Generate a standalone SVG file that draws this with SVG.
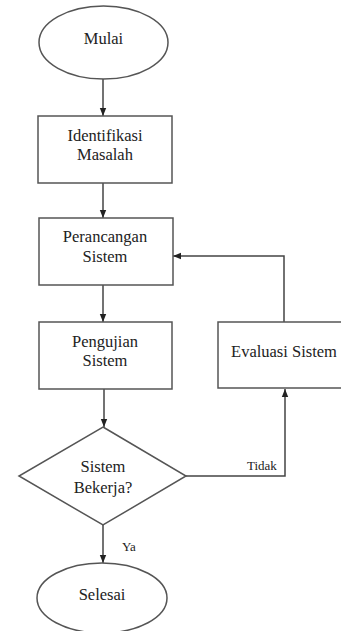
<svg xmlns="http://www.w3.org/2000/svg" width="341" height="631" viewBox="0 0 341 631">
<defs>
<marker id="arr" markerWidth="8" markerHeight="8" refX="8" refY="4" orient="auto" markerUnits="userSpaceOnUse">
<path d="M0,0.8 L8,4 L0,7.2 Z" fill="#222"/>
</marker>
<style>
.shape{fill:#fff;stroke:#555;stroke-width:1.5}
.t{font-family:"Liberation Serif","Times New Roman",serif;font-size:16.5px;fill:#222;text-anchor:middle}
.s{font-family:"Liberation Serif","Times New Roman",serif;font-size:13px;fill:#222}
.c{fill:none;stroke:#444;stroke-width:1.5}
</style>
</defs>
<rect width="341" height="631" fill="#fff"/>
<g id="connectors">
<line class="c" x1="103" y1="79" x2="103" y2="116" marker-end="url(#arr)"/>
<line class="c" x1="103" y1="183" x2="103" y2="218" marker-end="url(#arr)"/>
<line class="c" x1="103" y1="285" x2="103" y2="322" marker-end="url(#arr)"/>
<line class="c" x1="104" y1="389" x2="104" y2="427" marker-end="url(#arr)"/>
<line class="c" x1="103" y1="525" x2="103" y2="563" marker-end="url(#arr)"/>
<polyline class="c" points="284,322 284,256 173,256" marker-end="url(#arr)"/>
<polyline class="c" points="186,476 285,476 285,389" marker-end="url(#arr)"/>
<text class="s" x="247" y="470">Tidak</text>
<text class="s" x="122" y="551">Ya</text>
</g>
<g id="mulai">
<ellipse class="shape" cx="103.5" cy="42.5" rx="64.5" ry="36.5"/>
<text class="t" x="103.5" y="44">Mulai</text>
</g>
<g id="identifikasi">
<rect class="shape" x="38" y="116" width="134" height="67"/>
<text class="t" x="105" y="141">Identifikasi</text>
<text class="t" x="105" y="160">Masalah</text>
</g>
<g id="perancangan">
<rect class="shape" x="39" y="218" width="134" height="67"/>
<text class="t" x="105" y="242">Perancangan</text>
<text class="t" x="105" y="262">Sistem</text>
</g>
<g id="pengujian">
<rect class="shape" x="39" y="322" width="133" height="67"/>
<text class="t" x="105" y="347">Pengujian</text>
<text class="t" x="105" y="366">Sistem</text>
</g>
<g id="evaluasi">
<rect class="shape" x="218" y="322" width="130" height="66"/>
<text class="t" x="284" y="357">Evaluasi Sistem</text>
</g>
<g id="keputusan">
<polygon class="shape" points="103,427 186,476 103,525 19,476"/>
<text class="t" x="103" y="472">Sistem</text>
<text class="t" x="103" y="493">Bekerja?</text>
</g>
<g id="selesai">
<ellipse class="shape" cx="102" cy="598" rx="65" ry="35"/>
<text class="t" x="102" y="600">Selesai</text>
</g>
</svg>
